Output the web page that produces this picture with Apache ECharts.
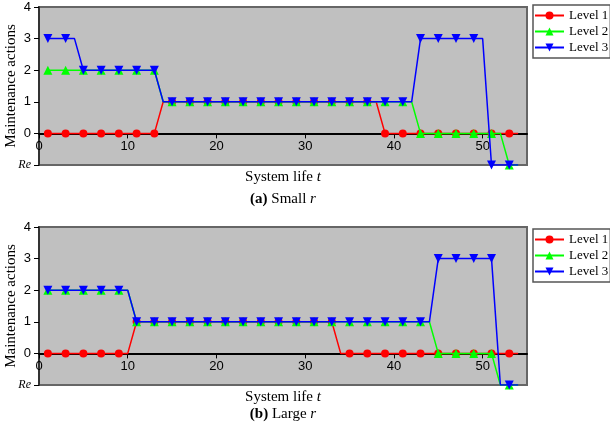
<!DOCTYPE html>
<html><head><meta charset="utf-8">
<script src="https://cdn.jsdelivr.net/npm/echarts@6/dist/echarts.min.js"></script>
<style>html,body{margin:0;padding:0;background:#fff}#c{width:610px;height:428px}</style>
</head><body><div id="c"></div>
<script>
const t = [1,2,3,4,5,6,7,8,9,10,11,12,13,14,15,16,17,18,19,20,21,22,23,24,25,26,27,28,29,30,31,32,33,34,35,36,37,38,39,40,41,42,43,44,45,46,47,48,49,50,51,52,53,54];
const seriesNames = ['Level 1','Level 2','Level 3'];
const yTickLabels = ['Re','0','1','2','3','4'];
const yTitle = 'Maintenance actions';
// Re is drawn at -1
const smallL1 = [0,0,0,0,0,0,0,0,0,0,0,0,0,1,1,1,1,1,1,1,1,1,1,1,1,1,1,1,1,1,1,1,1,1,1,1,1,1,0,0,0,0,0,0,0,0,0,0,0,0,0,0,0,0];
const smallL2 = [2,2,2,2,2,2,2,2,2,2,2,2,2,1,1,1,1,1,1,1,1,1,1,1,1,1,1,1,1,1,1,1,1,1,1,1,1,1,1,1,1,1,0,0,0,0,0,0,0,0,0,0,-1,-1];
const smallL3 = [3,3,3,3,2,2,2,2,2,2,2,2,2,1,1,1,1,1,1,1,1,1,1,1,1,1,1,1,1,1,1,1,1,1,1,1,1,1,1,1,1,1,3,3,3,3,3,3,3,3,-1,-1,-1,-1];
const largeL1 = [0,0,0,0,0,0,0,0,0,0,1,1,1,1,1,1,1,1,1,1,1,1,1,1,1,1,1,1,1,1,1,1,1,0,0,0,0,0,0,0,0,0,0,0,0,0,0,0,0,0,0,0,0,0];
const largeL2 = [2,2,2,2,2,2,2,2,2,2,1,1,1,1,1,1,1,1,1,1,1,1,1,1,1,1,1,1,1,1,1,1,1,1,1,1,1,1,1,1,1,1,1,1,0,0,0,0,0,0,0,-1,-1,-1];
const largeL3 = [2,2,2,2,2,2,2,2,2,2,1,1,1,1,1,1,1,1,1,1,1,1,1,1,1,1,1,1,1,1,1,1,1,1,1,1,1,1,1,1,1,1,1,1,3,3,3,3,3,3,3,-1,-1,-1];

const colors = ['#ff0000','#00ff00','#0000ff'];
const symbols = ['circle','triangle','triangle'];
const rotates = [0,0,180];
const sizes = [8,9,9];
const Y_MIN = -1, Y_MAX = 4;

function pairs(vals){ return t.map((x,i)=>[x,vals[i]]); }
function mkSeries(name, idx, vals, axis){
  return {
    name: name, type:'line', xAxisIndex:axis, yAxisIndex:axis,
    data: pairs(vals),
    symbol: symbols[idx], symbolRotate: rotates[idx],
    symbolSize: function(v){ return (v[0] % 2 === 1) ? sizes[idx] : 0; },
    showAllSymbol: true,
    itemStyle:{color:colors[idx]},
    lineStyle:{color:colors[idx], width:1.5},
    animation:false, z: 3+idx
  };
}
const PH = 158;
const grids = [
  {left:39, top:7, width:488, height:PH},
  {left:39, top:227, width:488, height:PH}
];
function xAx(i){
  return {type:'value', gridIndex:i, min:0, max:55, interval:10, position:'bottom',
    offset: -PH * (0 - Y_MIN) / (Y_MAX - Y_MIN),
    axisLine:{show:true, onZero:false, lineStyle:{color:'#000', width:2}},
    axisTick:{show:true, inside:false, length:5, lineStyle:{color:'#000'}},
    axisLabel:{color:'#000', fontFamily:'Liberation Sans, Arial, sans-serif', fontSize:13, margin:7,
      showMaxLabel:false,
      formatter:function(v){ return v % 10 === 0 ? String(v) : ''; }},
    splitLine:{show:false}};
}
function yAx(i){
  return {type:'value', gridIndex:i, min:Y_MIN, max:Y_MAX, interval:1,
    axisLine:{show:true, lineStyle:{color:'#333', width:2}},
    axisTick:{show:true, inside:false, length:5, lineStyle:{color:'#000'}},
    axisLabel:{color:'#000', fontFamily:'Liberation Sans, Arial, sans-serif', fontSize:13, margin:8,
      formatter:function(v){ const s = yTickLabels[v+1]; return v === -1 ? '{re|'+s+'}' : s; },
      rich:{re:{fontFamily:'Liberation Serif, Times New Roman, serif', fontStyle:'italic', fontSize:12, color:'#000'}}},
    splitLine:{show:false}};
}
function legendAt(top){
  return {orient:'vertical', left:533, top:top, data:seriesNames, itemGap:3, itemWidth:29, itemHeight:10,
    textStyle:{fontFamily:'Liberation Serif, Times New Roman, serif', fontSize:13, color:'#000'},
    borderColor:'#555', borderWidth:1.5, backgroundColor:'#fff', padding:[4,2,4,1], selectedMode:false};
}
const serifF = 'Liberation Serif, Times New Roman, serif';
function caption(y, text, rich){
  return {type:'text', x:283, y:y, style:{text:text, textAlign:'center', textVerticalAlign:'middle',
    font:'14px '+serifF, fill:'#000', rich:rich}};
}
function yName(cy){
  return {type:'text', x:11, y:cy, rotation:Math.PI/2, style:{text:yTitle, textAlign:'center', textVerticalAlign:'middle',
    font:'15px '+serifF, fill:'#000'}};
}
const rich = {
  n:{fontFamily:serifF, fontSize:15, color:'#000'},
  i:{fontFamily:serifF, fontSize:15, fontStyle:'italic', color:'#000'},
  b:{fontFamily:serifF, fontSize:15, fontWeight:'bold', color:'#000'}
};
const option = {
  animation:false,
  grid: grids.map(g=>Object.assign({show:true, containLabel:false, outerBoundsMode:'none', backgroundColor:'#c0c0c0', borderColor:'#666', borderWidth:2}, g)),
  xAxis:[xAx(0), xAx(1)],
  yAxis:[yAx(0), yAx(1)],
  legend:[legendAt(5), legendAt(229)],
  series:[
    mkSeries(seriesNames[0],0,smallL1,0), mkSeries(seriesNames[1],1,smallL2,0), mkSeries(seriesNames[2],2,smallL3,0),
    mkSeries(seriesNames[0],0,largeL1,1), mkSeries(seriesNames[1],1,largeL2,1), mkSeries(seriesNames[2],2,largeL3,1)
  ],
  graphic:[
    yName(7 + PH/2), yName(227 + PH/2),
    caption(177, '{n|System life }{i|t}', rich),
    caption(199, '{b|(a)}{n| Small }{i|r}', rich),
    caption(397, '{n|System life }{i|t}', rich),
    caption(414, '{b|(b)}{n| Large }{i|r}', rich)
  ]
};
const chart = echarts.init(document.getElementById('c'), null, {renderer:'canvas'});
chart.setOption(option);
</script></body></html>
